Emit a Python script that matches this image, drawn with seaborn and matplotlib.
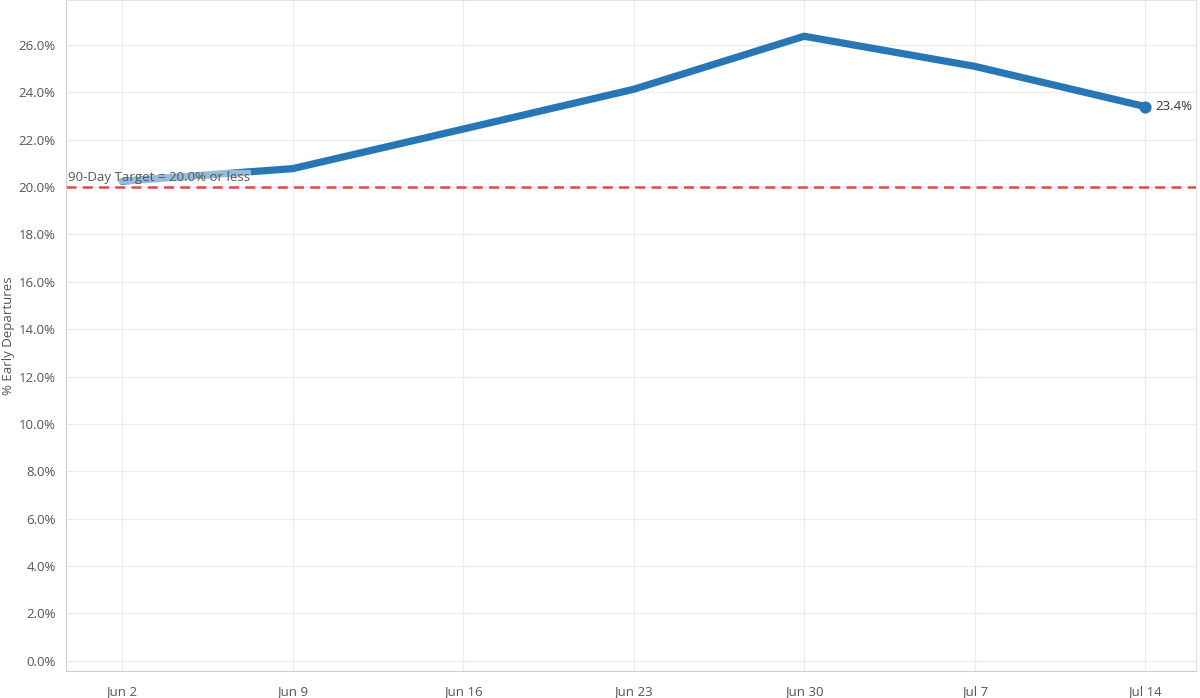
import pandas as pd
import seaborn as sns
import matplotlib.pyplot as plt
import matplotlib.dates as mdates

# data
week_start = ['2023-06-02', '2023-06-09', '2023-06-16', '2023-06-23',
              '2023-06-30', '2023-07-07', '2023-07-14']
pct_early = [20.25, 20.78, 22.45, 24.13, 26.37, 25.1, 23.4]
tick_labels = ['Jun 2', 'Jun 9', 'Jun 16', 'Jun 23', 'Jun 30', 'Jul 7', 'Jul 14']
y_ticks = [0, 2, 4, 6, 8, 10, 12, 14, 16, 18, 20, 22, 24, 26]
target = 20.0

df = pd.DataFrame({'week': pd.to_datetime(week_start), 'pct': pct_early})

sns.set_style('white')
plt.rcParams['font.family'] = ['Open Sans', 'DejaVu Sans']

fig = plt.figure(figsize=(12, 6.98), dpi=100)
ax = fig.add_axes([0.055, 0.039, 0.942, 0.961])

sns.lineplot(data=df, x='week', y='pct', ax=ax, color='#2777b6', linewidth=5.2,
             solid_capstyle='round', zorder=3)
last = df.iloc[-1]
ax.scatter([last['week']], [last['pct']], s=60, color='#2777b6', zorder=4)
ax.annotate('{:.1f}%'.format(last['pct']), (last['week'], last['pct']),
            xytext=(7, 0), textcoords='offset points', va='center',
            fontsize=9.5, color='#333333')

ax.axhline(target, color='#dc4b45', linestyle=(0, (4, 2.5)), linewidth=1.8, zorder=2)
ax.text(df['week'].iloc[0] - pd.Timedelta(days=2.2), target + 0.15,
        '90-Day Target = 20.0% or less', fontsize=9.5, color='#555555',
        va='bottom', ha='left', zorder=5,
        bbox=dict(facecolor='white', edgecolor='none', alpha=0.5, pad=0.5))

ax.set_xlim(df['week'].iloc[0] - pd.Timedelta(days=2.3),
            df['week'].iloc[-1] + pd.Timedelta(days=2.1))
ax.set_ylim(-0.42, 27.9)

ax.set_xticks(df['week'])
ax.set_xticklabels(tick_labels)
ax.xaxis.set_minor_locator(mdates.DayLocator())
ax.set_yticks(y_ticks)
ax.set_yticklabels(['{:.1f}%'.format(v) for v in y_ticks])

ax.grid(True, which='major', color='#ececec', linewidth=0.8)
ax.tick_params(axis='both', which='major', labelsize=9.5, labelcolor='#555555',
               length=4, color='#d0d0d0', direction='out')
ax.tick_params(axis='x', which='minor', length=2, color='#d0d0d0')
ax.tick_params(axis='x', which='major', pad=6)
for s in ax.spines.values():
    s.set_color('#e4e4e4')
ax.spines['left'].set_color('#cfcfcf')
ax.spines['bottom'].set_color('#cfcfcf')

ax.set_xlabel('')
ax.set_ylabel('% Early Departures', fontsize=9.5, color='#555555', labelpad=2)
ax.yaxis.set_label_coords(-0.045, 0.5)

plt.savefig('out.png', dpi=100)
